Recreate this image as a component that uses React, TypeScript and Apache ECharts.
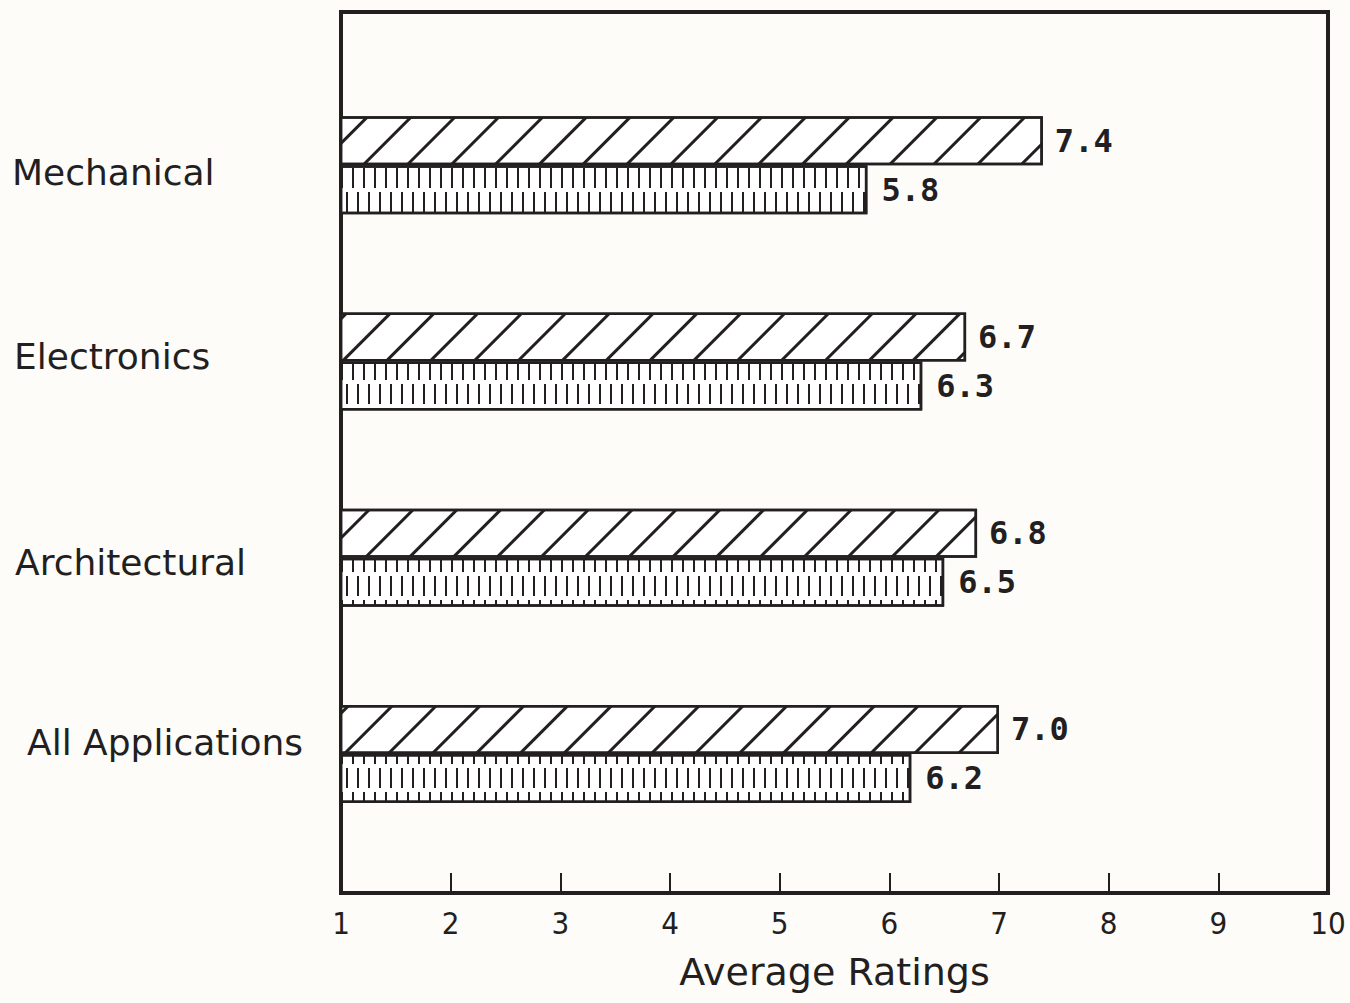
import React, { useEffect, useRef } from "react";
import * as echarts from "echarts";

const categories = ["Mechanical", "Electronics", "Architectural", "All Applications"];
const hatchedValues = [7.4, 6.7, 6.8, 7.0];
const stippledValues = [5.8, 6.3, 6.5, 6.2];
const axisMin = 1;
const axisMax = 10;
const axisTitle = "Average Ratings";

const INK = "#231f20";
const BG = "#fdfcf9";

export default function App() {
  const ref = useRef<HTMLDivElement>(null);
  useEffect(() => {
    document.body.style.margin = "0";
    document.body.style.background = BG;
    const chart = echarts.init(ref.current!, null, { renderer: "svg" });
    const labelPads = [
      [14, 0, 0, 0],
      [0, 0, 10, 2],
      [10, 0, 0, 3],
      [0, 0, 22, 15],
    ];
    const catFont = {
      color: INK,
      fontSize: 36,
      fontFamily: "'DejaVu Sans', sans-serif",
    };
    const rich: Record<string, any> = {};
    labelPads.forEach((p, i) => {
      rich["k" + i] = { ...catFont, padding: p };
    });
    const valueLabel = (distance: number) => ({
      show: true,
      position: "right",
      distance,
      color: INK,
      fontSize: 32,
      fontWeight: "bold",
      fontFamily: "'DejaVu Sans Mono', monospace",
      formatter: (p: any) => Number(p.value).toFixed(1),
    });
    const option = {
      animation: false,
      backgroundColor: BG,
      grid: [
        {
          left: 341,
          top: 12,
          width: 987,
          height: 881,
          show: true,
          borderColor: INK,
          borderWidth: 4,
          backgroundColor: "transparent",
          outerBoundsMode: "none",
          containLabel: false,
        },
        {
          left: 341,
          top: 67,
          width: 987,
          height: 785,
          outerBoundsMode: "none",
          containLabel: false,
        },
      ],
      xAxis: [
        {
          gridIndex: 0,
          type: "value",
          min: axisMin,
          max: axisMax,
          interval: 1,
          axisLine: { show: false },
          splitLine: { show: false },
          axisTick: { show: true, inside: true, length: 20, lineStyle: { color: INK, width: 2 } },
          axisLabel: {
            margin: 14,
            color: INK,
            fontSize: 31,
            fontFamily: "'DejaVu Sans Condensed', 'Liberation Sans Narrow', 'DejaVu Sans', sans-serif",
          },
          name: axisTitle,
          nameLocation: "middle",
          nameGap: 60,
          nameTextStyle: { color: INK, fontSize: 38, fontFamily: "'DejaVu Sans', sans-serif" },
        },
        {
          gridIndex: 1,
          type: "value",
          min: axisMin,
          max: axisMax,
          show: false,
        },
      ],
      yAxis: [
        { gridIndex: 0, type: "value", show: false },
        {
          gridIndex: 1,
          type: "category",
          inverse: true,
          data: categories,
          axisLine: { show: false },
          axisTick: { show: false },
          axisLabel: {
            ...catFont,
            align: "left",
            margin: 329,
            formatter: (v: string) => `{k${categories.indexOf(v)}|${v}}`,
            rich,
          },
        },
      ],
      series: [
        {
          type: "bar",
          xAxisIndex: 1,
          yAxisIndex: 1,
          data: hatchedValues,
          barWidth: 49,
          barGap: "0%",
          itemStyle: {
            color: "#ffffff",
            borderColor: INK,
            borderWidth: 2.5,
            decal: {
              symbol: "rect",
              color: INK,
              dashArrayX: [1, 0],
              dashArrayY: [2.5, 28],
              rotation: -Math.PI / 4,
            },
          },
          label: valueLabel(12),
        },
        {
          type: "bar",
          xAxisIndex: 1,
          yAxisIndex: 1,
          data: stippledValues,
          barWidth: 49,
          barGap: "0%",
          itemStyle: {
            color: "#ffffff",
            borderColor: INK,
            borderWidth: 2.5,
            decal: {
              symbol: "rect",
              color: INK,
              dashArrayX: [[1.5, 8.5], [0, 5, 1.5, 3.5]],
              dashArrayY: [20, 4],
              rotation: 0,
            },
          },
          label: valueLabel(14),
        },
      ],
    };
    chart.setOption(option as any);
    return () => chart.dispose();
  }, []);
  return <div ref={ref} style={{ width: 1350, height: 1003 }} />;
}
